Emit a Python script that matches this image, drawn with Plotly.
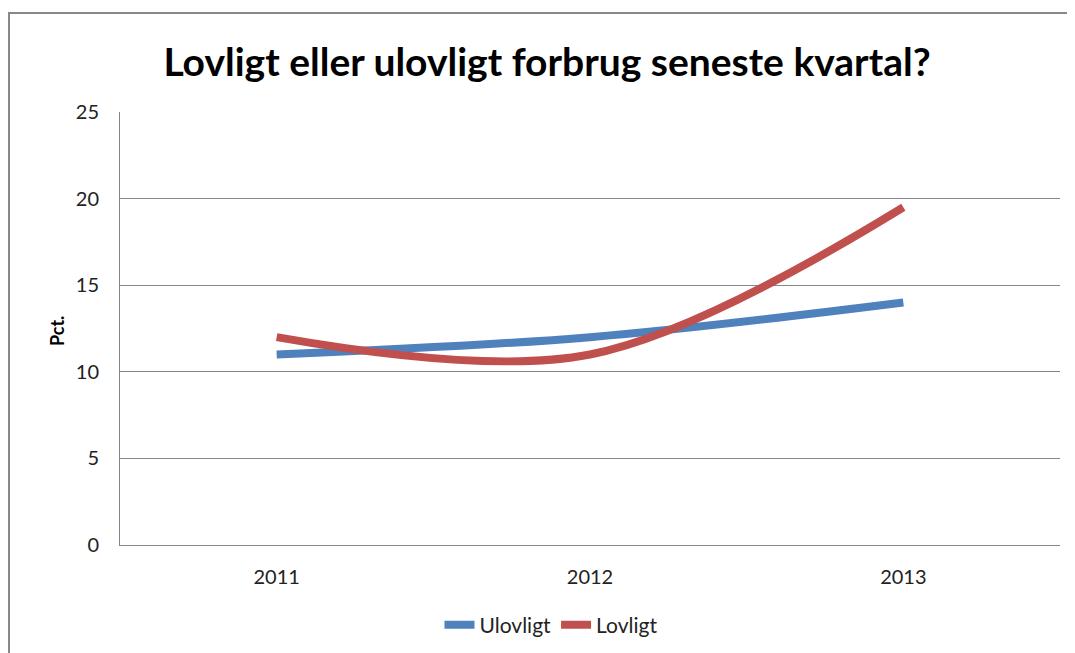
import plotly.graph_objects as go

years = ["2011", "2012", "2013"]
ulovligt = [11, 12, 14]
lovligt = [12, 11, 19.5]
y_ticks = [0, 5, 10, 15, 20, 25]

title = "Lovligt eller ulovligt forbrug seneste kvartal?"
font_family = "Lato, 'Open Sans', sans-serif"

fig = go.Figure()
fig.add_trace(go.Scatter(x=years, y=ulovligt, name="Ulovligt", mode="lines",
                         line=dict(color="#4F81BD", width=8, shape="spline", smoothing=1)))
fig.add_trace(go.Scatter(x=years, y=lovligt, name="Lovligt", mode="lines",
                         line=dict(color="#C0504D", width=8, shape="spline", smoothing=1)))

OFF = 8  # page body margin
W, H = 1075, 653
# plot area in page pixels
PL, PT, PR, PB = 120, 112, 1060, 545
L, T = PL - OFF, PT - OFF
R = W - (PR - OFF)
B = H - (PB - OFF)
pw, ph = PR - PL, PB - PT

def px_x(x):
    return (x - PL) / pw

def px_y(y):
    return (PB - y) / ph

fig.update_layout(
    width=W, height=H,
    margin=dict(l=L, r=R, t=T, b=B),
    paper_bgcolor="white", plot_bgcolor="white",
    font=dict(family=font_family, size=20, color="#222"),
    title=dict(text="<b>" + title + "</b>", xref="container", yref="container",
               x=(547 - OFF) / W, y=1 - (62 - OFF) / H, xanchor="center", yanchor="middle",
               font=dict(size=39, color="#000")),
    xaxis=dict(type="category", range=[-0.5, 2.5], showgrid=False,
               showline=True, linecolor="#868686", linewidth=1,
               ticks="outside", ticklen=14, tickcolor="rgba(0,0,0,0)",
               tickfont=dict(size=20)),
    yaxis=dict(range=[0, 25], tickvals=y_ticks, showgrid=True, gridcolor="#868686",
               gridwidth=1, showline=True, linecolor="#868686", linewidth=1,
               zeroline=False, ticks="outside", ticklen=16, tickcolor="rgba(0,0,0,0)",
               tickfont=dict(size=20)),
    legend=dict(orientation="h", x=px_x(551), y=px_y(625), xanchor="center", yanchor="middle",
                font=dict(size=21), itemwidth=30),
    showlegend=True,
)

fig.add_annotation(text="<b>Pct.</b>", x=px_x(57), y=px_y(331), xref="paper", yref="paper",
                   xanchor="center", yanchor="middle",
                   showarrow=False, textangle=-90, font=dict(size=18, color="#000"))

# outer chart border (left and top edges visible)
fig.add_shape(type="path", xref="paper", yref="paper",
              path=f"M {px_x(9)} {px_y(700)} L {px_x(9)} {px_y(13)} L {px_x(1090)} {px_y(13)}",
              line=dict(color="#888888", width=2))

fig.write_html("out.html")
